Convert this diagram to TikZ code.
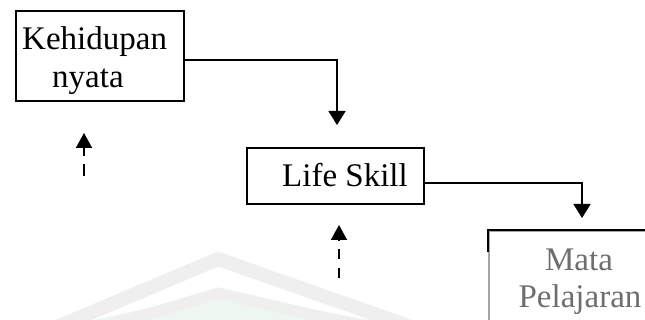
\documentclass[tikz,border=0pt]{standalone}
\usepackage{fontspec}
\setmainfont{Liberation Serif}
\usetikzlibrary{arrows.meta}
\definecolor{wmgray}{HTML}{EFEFEF}
\definecolor{wmgreen}{HTML}{EEF6F1}
\definecolor{txtgray}{HTML}{6E6E6E}
\tikzset{
  boxframe/.style={draw=black, line width=1.7pt, inner sep=0pt},
  label text/.style={font=\fontsize{33}{38}\selectfont, inner sep=0pt},
  flow/.style={line width=1.7pt, -{Triangle[length=14pt,width=17pt]}},
  dashflow/.style={line width=1.7pt, dash pattern=on 10pt off 9pt, -{Triangle[length=15pt,width=16pt]}},
}
\begin{document}
\begin{tikzpicture}[x=1pt,y=-1pt]
\useasboundingbox (0,0) rectangle (645,320);
\begin{scope}
\clip (0,0) rectangle (645,320);
% faint background emblem
\fill[wmgreen] (95,320) -- (218,292) -- (370,320) -- cycle;
\draw[wmgray, line width=14pt] (50,330) -- (218,259) -- (420,330);
\draw[wmgray, line width=11pt] (95,330) -- (218,293) -- (380,330);

% boxes
\node[boxframe, anchor=north west, minimum width=168pt, minimum height=90pt] (keh) at (15,10) {};
\node[label text, anchor=base west] (kehA) at (22,50) {Kehidupan};
\node[label text, anchor=base west] (kehB) at (52,88) {nyata};

\node[boxframe, anchor=north west, minimum width=177pt, minimum height=56pt] (life) at (246,147) {};
\node[label text, anchor=base west] (lifeT) at (282,187) {Life Skill};

\node[draw=gray!70, line width=1.7pt, inner sep=0pt, anchor=north west, minimum width=200pt, minimum height=120pt] (mata) at (488,230) {};
\draw[black, line width=1.7pt] (488,252) -- (488,230) -- (660,230);
\node[label text, text=txtgray] (mataA) at (579,260) {Mata};
\node[label text, text=txtgray] (mataB) at (580,300) {Pelajaran};

% connectors
\coordinate (c1) at (337,125);
\coordinate (c2) at (582,218);
\draw[flow] (keh.east |- 0,60) -| (c1);
\draw[flow] (life.east |- 0,183) -| (c2);

\coordinate (d1s) at (84,176);
\coordinate (d1e) at (84,133);
\draw[line width=1.7pt, dash pattern=on 12pt off 8pt, -{Triangle[length=15pt,width=16pt]}] (d1s) -- (d1e);

\coordinate (d2s) at (339,278);
\coordinate (d2e) at (339,225);
\draw[dashflow] (d2s) -- (d2e);
\end{scope}
\end{tikzpicture}
\end{document}
